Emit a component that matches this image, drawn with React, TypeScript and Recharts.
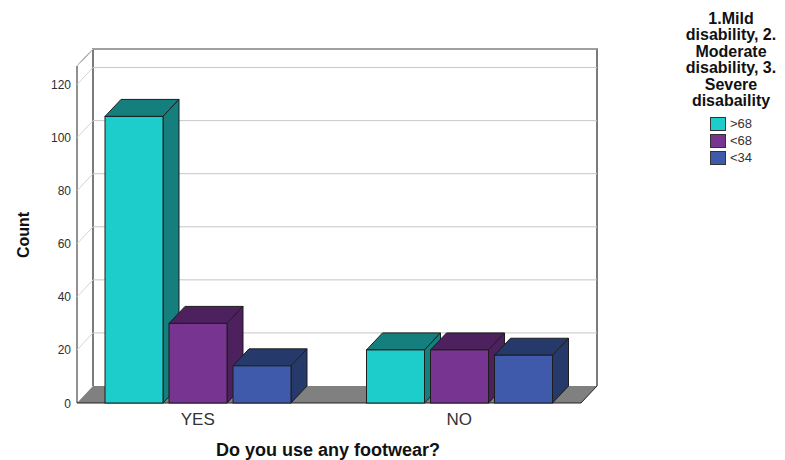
import { BarChart, Bar, XAxis, YAxis, CartesianGrid } from "recharts";

const categories = ["YES", "NO"];
const mildCounts = [108, 20];
const moderateCounts = [30, 20];
const severeCounts = [14, 18];
const yTicks = [0, 20, 40, 60, 80, 100, 120];
const seriesKeys = ["mild", "moderate", "severe"] as const;
const seriesNames = [">68", "<68", "<34"];
const legendTitle = ["1.Mild", "disability, 2.", "Moderate", "disability, 3.", "Severe", "disabaility"];

const data = categories.map((c, i) => ({
  name: c,
  mild: mildCounts[i],
  moderate: moderateCounts[i],
  severe: severeCounts[i],
}));

const W = 785;
const H = 460;
const MARGIN = { top: 66, right: 204, bottom: 27, left: 17 };
const Y_AXIS_W = 60;
const X_AXIS_H = 30;
const LEFT = MARGIN.left + Y_AXIS_W;
const TOP = MARGIN.top;
const RIGHT = W - MARGIN.right;
const BOTTOM = H - MARGIN.bottom - X_AXIS_H;
// depth of the fake 3d box
const DX = 16;
const DY = 17;
const FONT = '"Liberation Sans", Arial, sans-serif';

const colors = [
  { front: "#1ccdcb", side: "#157f7e" },
  { front: "#773591", side: "#4c215e" },
  { front: "#3f5aaa", side: "#26396b" },
];

function Box3D(props: any) {
  const { x, y, width: w, height: h, front, side } = props;
  if (w == null || h == null) return null;
  const stroke = "#1d1d1d";
  return (
    <g>
      <polygon
        points={`${x},${y} ${x + DX},${y - DY} ${x + w + DX},${y - DY} ${x + w},${y}`}
        fill={side} stroke={stroke} strokeWidth={1}
      />
      <polygon
        points={`${x + w},${y} ${x + w + DX},${y - DY} ${x + w + DX},${y + h - DY} ${x + w},${y + h}`}
        fill={side} stroke={stroke} strokeWidth={1}
      />
      <rect x={x} y={y} width={w} height={h} fill={front} stroke={stroke} strokeWidth={1} />
    </g>
  );
}

const renderGridLine = (p: any) => {
  const { x1, y1, x2 } = p;
  const k = `hl-${p.index}`;
  if (Math.abs(y1 - BOTTOM) < 1) return <g key={k} />;
  return (
    <g key={k}>
      <line x1={x1 + DX} y1={y1 - DY} x2={x2 + DX} y2={y1 - DY} stroke="#c6c6c6" strokeWidth={1} />
      <line x1={x1} y1={y1} x2={x1 + DX} y2={y1 - DY} stroke="#d4d4d4" strokeWidth={1} />
    </g>
  );
};

function YTick({ x, y, payload }: any) {
  return (
    <text x={x} y={y} dy={4.5} textAnchor="end" fontFamily={FONT} fontSize={12} fill="#2e2e2e">
      {payload.value}
    </text>
  );
}

function XTick({ x, y, payload }: any) {
  return (
    <text x={x} y={y} dy={22} textAnchor="middle" fontFamily={FONT} fontSize={17} fill="#333">
      {payload.value}
    </text>
  );
}

function LegendBox() {
  return (
    <div style={{ position: "absolute", left: 675, top: 11, width: 112, fontFamily: FONT }}>
      {legendTitle.map((t) => (
        <div key={t} style={{ fontWeight: "bold", fontSize: 16, lineHeight: "16.4px", textAlign: "center", color: "#111" }}>
          {t}
        </div>
      ))}
      <div style={{ marginTop: 6, marginLeft: 35 }}>
        {seriesNames.map((n, i) => (
          <div key={n} style={{ display: "flex", alignItems: "center", height: 17 }}>
            <span
              style={{
                display: "inline-block", width: 14, height: 12, background: colors[i].front,
                border: "1px solid #333", marginRight: 4,
              }}
            />
            <span style={{ fontSize: 13, color: "#333" }}>{n}</span>
          </div>
        ))}
      </div>
    </div>
  );
}

function Backdrop() {
  return (
    <svg width={W} height={H} style={{ position: "absolute", left: 0, top: 0 }}>
      <rect width={W} height={H} fill="#fff" />
      {/* floor */}
      <polygon
        points={`${LEFT},${BOTTOM} ${RIGHT},${BOTTOM} ${RIGHT + DX},${BOTTOM - DY} ${LEFT + DX},${BOTTOM - DY}`}
        fill="#808080"
      />
      <polyline
        points={`${LEFT},${BOTTOM} ${RIGHT},${BOTTOM} ${RIGHT + DX},${BOTTOM - DY}`}
        fill="none" stroke="#222" strokeWidth={1}
      />
      {/* back wall */}
      <polyline
        points={`${LEFT + DX},${BOTTOM - DY} ${LEFT + DX},${TOP - DY} ${RIGHT + DX},${TOP - DY} ${RIGHT + DX},${BOTTOM - DY}`}
        fill="none" stroke="#505050" strokeWidth={1.5}
      />
      {/* left wall */}
      <polyline
        points={`${LEFT},${BOTTOM} ${LEFT},${TOP} ${LEFT + DX},${TOP - DY}`}
        fill="none" stroke="#222" strokeWidth={1}
      />
      <text
        x={29} y={235} transform="rotate(-90 29 235)" textAnchor="middle"
        fontFamily={FONT} fontWeight="bold" fontSize={16} fill="#111"
      >
        Count
      </text>
      <text x={328} y={456} textAnchor="middle" fontFamily={FONT} fontWeight="bold" fontSize={18} fill="#111">
        Do you use any footwear?
      </text>
    </svg>
  );
}

export default function App() {
  return (
    <div style={{ position: "absolute", left: 0, top: 0, width: W, height: H }}>
      <Backdrop />
      <div style={{ position: "absolute", left: 0, top: 0 }}>
        <BarChart width={W} height={H} data={data} margin={MARGIN} barGap={6}>
          <CartesianGrid vertical={false} horizontal={renderGridLine} />
          <XAxis
            dataKey="name"
            height={X_AXIS_H}
            padding={{ left: -10, right: -9 }}
            axisLine={false}
            tickLine={false}
            tickSize={0}
            tickMargin={0}
            interval={0}
            tick={<XTick />}
          />
          <YAxis
            width={Y_AXIS_W}
            domain={[0, 127]}
            ticks={yTicks}
            axisLine={false}
            tickLine={false}
            tickSize={0}
            tickMargin={6}
            tick={<YTick />}
          />
          {seriesKeys.map((key, i) => (
            <Bar
              key={key}
              dataKey={key}
              name={seriesNames[i]}
              fill={colors[i].front}
              barSize={58}
              isAnimationActive={false}
              shape={(p: any) => <Box3D {...p} front={colors[i].front} side={colors[i].side} />}
            />
          ))}
        </BarChart>
      </div>
      <LegendBox />
    </div>
  );
}
